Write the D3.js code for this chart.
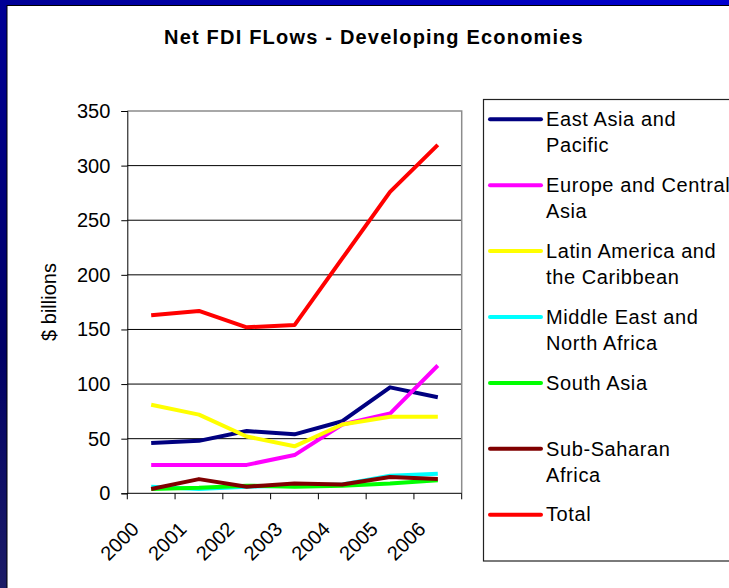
<!DOCTYPE html>
<html>
<head>
<meta charset="utf-8">
<script src="https://cdn.jsdelivr.net/npm/d3@7"></script>
<style>
  body { margin: 0; background: #fff; }
  text { font-family: "Liberation Sans", Arial, sans-serif; fill: #000; }
</style>
</head>
<body>
<svg class="chart" width="729" height="588"></svg>
<script>
// Data ($ billions)
const years = ["2000", "2001", "2002", "2003", "2004", "2005", "2006"];
const eastAsia = [46, 48, 57, 54, 66, 97, 88];
const europeCentralAsia = [26, 26, 26, 35, 63, 73, 117];
const latinAmerica = [81, 72, 52, 43, 63, 70, 70];
const middleEast = [6, 4, 6, 7, 8, 16, 18];
const southAsia = [4, 5, 7, 6, 7, 9, 12];
const subSaharan = [4, 13, 6, 9, 8, 15, 13];
const total = [163, 167, 152, 154, 215, 276, 319];
const yTicks = [0, 50, 100, 150, 200, 250, 300, 350];

const seriesNames = [
    ["East Asia and", "Pacific"],
    ["Europe and Central", "Asia"],
    ["Latin America and", "the Caribbean"],
    ["Middle East and", "North Africa"],
    ["South Asia"],
    ["Sub-Saharan", "Africa"],
    ["Total"]
];
const seriesValues = [eastAsia, europeCentralAsia, latinAmerica, middleEast, southAsia, subSaharan, total];
const seriesColors = ["#000080", "#ff00ff", "#ffff00", "#00ffff", "#00ff00", "#800000", "#ff0000"];

const svg = d3.select(".chart");

// slide background: blue frame on top and left
const defs = svg.append("defs");
const gTop = defs.append("linearGradient").attr("id", "topBand");
gTop.append("stop").attr("offset", "0%").attr("stop-color", "#000096");
gTop.append("stop").attr("offset", "100%").attr("stop-color", "#0000d0");
const gLeft = defs.append("linearGradient").attr("id", "leftBand")
    .attr("x1", 0).attr("y1", 0).attr("x2", 0).attr("y2", 1);
gLeft.append("stop").attr("offset", "0%").attr("stop-color", "#000096");
gLeft.append("stop").attr("offset", "60%").attr("stop-color", "#000066");
gLeft.append("stop").attr("offset", "100%").attr("stop-color", "#1c1c66");

svg.append("rect").attr("x", 0).attr("y", 0).attr("width", 729).attr("height", 588).attr("fill", "#fff");
svg.append("rect").attr("x", 0).attr("y", 0).attr("width", 729).attr("height", 5).attr("fill", "url(#topBand)");
svg.append("rect").attr("x", 0).attr("y", 0).attr("width", 7).attr("height", 588).attr("fill", "url(#leftBand)");
svg.append("line").attr("x1", 7).attr("x2", 729).attr("y1", 5.5).attr("y2", 5.5).attr("stroke", "#000");
svg.append("line").attr("x1", 7).attr("x2", 7).attr("y1", 5).attr("y2", 588).attr("stroke", "#000");

// Title
svg.append("text")
    .attr("x", 374)
    .attr("y", 44)
    .attr("text-anchor", "middle")
    .style("font-size", "20px")
    .style("font-weight", "bold")
    .style("letter-spacing", "1.2px")
    .text("Net FDI FLows - Developing Economies");

// Plot area
const plot = { left: 127.3, right: 461.7, top: 111, bottom: 493.3 };

const x = d3.scaleBand()
    .domain(years)
    .range([plot.left, plot.right]);

const y = d3.scaleLinear()
    .domain([0, 350])
    .range([plot.bottom, plot.top]);

// Gridlines
svg.append("g")
    .selectAll("line")
    .data(yTicks.filter(d => d > 0 && d < 350))
    .enter().append("line")
    .attr("x1", plot.left)
    .attr("x2", plot.right)
    .attr("y1", d => y(d))
    .attr("y2", d => y(d))
    .attr("stroke", "#000")
    .attr("stroke-width", 1);

// gray border on top and right
svg.append("path")
    .attr("d", `M${plot.left},${y(350)}H${plot.right}V${y(0)}`)
    .attr("fill", "none")
    .attr("stroke", "#8c8c8c")
    .attr("stroke-width", 1.5);

// Y axis
const yAxis = svg.append("g")
    .attr("transform", `translate(${plot.left},0)`)
    .call(d3.axisLeft(y).tickValues(yTicks).tickSize(6).tickPadding(11));
yAxis.select(".domain").attr("stroke", "#000");
yAxis.selectAll("text").style("font-size", "20px").attr("font-family", null);

// X axis: ticks at band edges
const xAxis = svg.append("g")
    .attr("transform", `translate(0,${plot.bottom})`);
xAxis.append("line")
    .attr("x1", plot.left).attr("x2", plot.right)
    .attr("y1", 0).attr("y2", 0)
    .attr("stroke", "#000");
xAxis.selectAll(".tick")
    .data(years.concat(["end"]))
    .enter().append("line")
    .attr("x1", d => d === "end" ? plot.right : x(d))
    .attr("x2", d => d === "end" ? plot.right : x(d))
    .attr("y1", 0)
    .attr("y2", 6)
    .attr("stroke", "#000");
xAxis.selectAll(".label")
    .data(years)
    .enter().append("text")
    .attr("text-anchor", "end")
    .attr("transform", d => `translate(${x(d) + x.bandwidth() / 2 - 11},37) rotate(-45)`)
    .style("font-size", "20px")
    .text(d => d);

// Y axis title
svg.append("text")
    .attr("transform", "translate(56,302) rotate(-90)")
    .attr("text-anchor", "middle")
    .style("font-size", "20px")
    .text("$ billions");

// Lines
const line = d3.line()
    .x((d, i) => x(years[i]) + x.bandwidth() / 2)
    .y(d => y(d));

svg.append("g")
    .selectAll("path")
    .data(seriesValues)
    .enter().append("path")
    .attr("d", d => line(d))
    .attr("fill", "none")
    .attr("stroke", (d, i) => seriesColors[i])
    .attr("stroke-width", 4)
    .attr("stroke-linejoin", "round");

// Legend
const legend = svg.append("g");
legend.append("rect")
    .attr("x", 483.5)
    .attr("y", 99.5)
    .attr("width", 260)
    .attr("height", 461.5)
    .attr("fill", "#fff")
    .attr("stroke", "#222")
    .attr("stroke-width", 1.2);

const items = legend.selectAll(".item")
    .data(seriesNames)
    .enter().append("g")
    .attr("transform", (d, i) => `translate(0,${119.3 + i * 65.9})`);

items.append("line")
    .attr("x1", 490)
    .attr("x2", 541)
    .attr("y1", 0)
    .attr("y2", 0)
    .attr("stroke", (d, i) => seriesColors[i])
    .attr("stroke-width", 4)
    .attr("stroke-linecap", "round");

items.append("text")
    .attr("x", 546)
    .attr("y", 6.7)
    .style("font-size", "20px")
    .style("letter-spacing", "0.6px")
    .selectAll("tspan")
    .data(d => d)
    .enter().append("tspan")
    .attr("x", 546)
    .attr("dy", (d, i) => i === 0 ? 0 : 26.5)
    .text(d => d);
</script>
</body>
</html>
